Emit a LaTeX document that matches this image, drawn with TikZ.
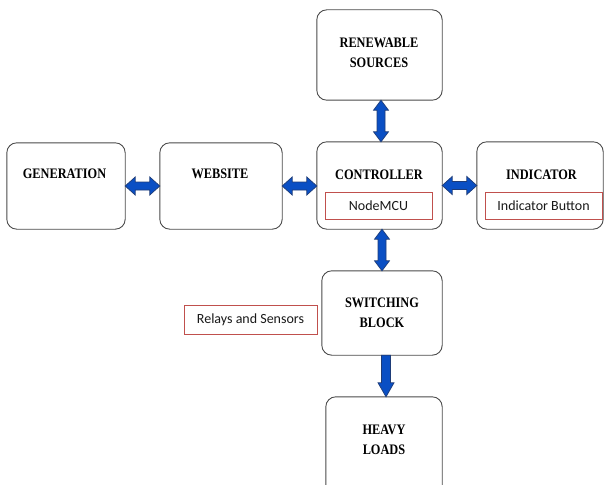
\documentclass[tikz,border=0pt]{standalone}
\usepackage{fontspec}
\setmainfont{Liberation Serif}
\newfontfamily\hdrfont[FakeStretch=0.85]{Liberation Serif}
\newfontfamily\lblfont{Carlito}
\usetikzlibrary{calc}
\definecolor{boxline}{HTML}{4A4A4A}
\definecolor{redline}{HTML}{C0504D}
\definecolor{arrfill}{HTML}{0A4FC4}
\definecolor{arrline}{HTML}{1E3C78}
\tikzset{
  blk/.style={draw=boxline,line width=0.9pt,rounded corners=10pt,fill=white},
  hdr/.style={font=\hdrfont\bfseries\fontsize{14.5}{20}\selectfont,align=center,inner sep=0pt,text=black},
  tag/.style={draw=redline,line width=0.8pt,font=\lblfont\fontsize{14}{16}\selectfont,inner sep=0pt,text=black!90},
  blockarr/.style={fill=arrfill,draw=arrline,line width=0.7pt,line join=miter}
}
\newcommand\harrow[2]{%
  \draw[blockarr] let \p1=(#1.east), \p2=(#2.west) in
   (\x1,\y1) -- (\x1+10pt,\y1+9pt) -- (\x1+10pt,\y1+4pt) -- (\x2-10pt,\y1+4pt)
   -- (\x2-10pt,\y1+9pt) -- (\x2,\y1) -- (\x2-10pt,\y1-9pt) -- (\x2-10pt,\y1-4pt)
   -- (\x1+10pt,\y1-4pt) -- (\x1+10pt,\y1-9pt) -- cycle;}
\newcommand\varrow[3]{% #3 = x offset
  \draw[blockarr] let \p1=(#1.south), \p2=(#2.north) in
   (\x1+#3,\y1) -- (\x1+#3+7.5pt,\y1-10pt) -- (\x1+#3+4pt,\y1-10pt) -- (\x1+#3+4pt,\y2+10pt)
   -- (\x1+#3+7.5pt,\y2+10pt) -- (\x1+#3,\y2) -- (\x1+#3-7.5pt,\y2+10pt) -- (\x1+#3-4pt,\y2+10pt)
   -- (\x1+#3-4pt,\y1-10pt) -- (\x1+#3-7.5pt,\y1-10pt) -- cycle;}
\begin{document}
\begin{tikzpicture}[x=1pt,y=-1pt]
\useasboundingbox (0,0) rectangle (604,484);
\clip (0,0) rectangle (604,484);
\fill[white] (0,0) rectangle (604,484);
% boxes
\node[inner sep=0pt,minimum width=125pt,minimum height=90pt] (ren) at (379.5,55) {};
\node[inner sep=0pt,minimum width=125pt,minimum height=87pt] (ctrl) at (379.5,185.5) {};
\node[inner sep=0pt,minimum width=126pt,minimum height=87pt] (ind) at (540,185.5) {};
\node[inner sep=0pt,minimum width=118pt,minimum height=86pt] (gen) at (66,186) {};
\node[inner sep=0pt,minimum width=122pt,minimum height=86pt] (web) at (221,186) {};
\node[inner sep=0pt,minimum width=120pt,minimum height=84pt] (sw) at (382,313) {};
\node[inner sep=0pt,minimum width=116pt,minimum height=100pt] (heavy) at (384,447) {};
\foreach \n in {ren,ctrl,ind,gen,web,sw,heavy}
  \draw[blk] (\n.north west) rectangle (\n.south east);
% titles
\node[hdr] (ren-t) at (379,53) {RENEWABLE\\SOURCES};
\node[hdr] (ctrl-t) at (379,175) {CONTROLLER};
\node[hdr] (ind-t) at (541.5,175) {INDICATOR};
\node[hdr] (gen-t) at (64.5,174) {GENERATION};
\node[hdr] (web-t) at (220,174) {WEBSITE};
\node[hdr] (sw-t) at (382,313) {SWITCHING\\BLOCK};
\node[hdr] (heavy-t) at (384,440) {HEAVY\\LOADS};
% tags
\node[tag,minimum width=107pt,minimum height=27pt] (mcu) at (378.5,205.5) {NodeMCU};
\node[tag,minimum width=117pt,minimum height=27pt] (btn) at (543.5,205.5) {Indicator Button};
\node[tag,minimum width=133pt,minimum height=29pt] (rel) at (250.5,319.5) {Relays and Sensors};
% arrows
\harrow{gen}{web}
\harrow{web}{ctrl}
\harrow{ctrl}{ind}
\varrow{ren}{ctrl}{1.5pt}
\varrow{ctrl}{sw}{2.5pt}
\draw[blockarr] let \p1=(sw.south), \p2=(heavy.north) in
   (\x1+4pt-4.5pt,\y1) -- (\x1+4pt+4.5pt,\y1) -- (\x1+4pt+4.5pt,\y2+14pt) -- (\x1+4pt+8pt,\y2+14pt)
   -- (\x1+4pt,\y2) -- (\x1+4pt-8pt,\y2+14pt) -- (\x1+4pt-4.5pt,\y2+14pt) -- cycle;
\end{tikzpicture}
\end{document}
